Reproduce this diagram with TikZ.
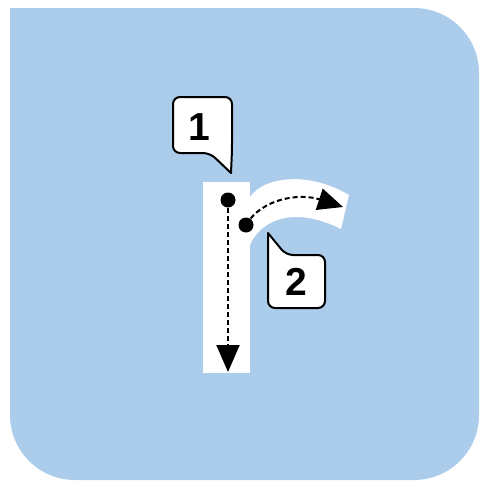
\documentclass[tikz,border=0pt]{standalone}
\usepackage{fontspec}
\setmainfont{Liberation Sans}
\usetikzlibrary{arrows.meta}
\definecolor{bgblue}{RGB}{171,205,235}
\tikzset{
  callout/.style={draw=black, fill=white, line width=2pt, rounded corners=7pt, line join=round},
  num/.style={font=\bfseries\fontsize{39}{39}\selectfont, inner sep=0pt},
  dot/.style={circle, fill=black, minimum size=15pt, inner sep=0pt},
  dasharrow/.style={draw=black, line width=2pt, dash pattern=on 5pt off 3pt},
}
\begin{document}
\begin{tikzpicture}[x=1pt,y=-1pt]
\useasboundingbox (0,0) rectangle (481,482);
% background
\fill[bgblue, rounded corners=65pt] (10,8) rectangle (479,480);
\fill[bgblue] (10,8) rectangle (120,120);
% white letter r
\fill[white] (203,182) rectangle (250,373);
\fill[white] (249,198) .. controls (265,175) and (310,172) .. (349,195)
  -- (341,229) .. controls (300,208) and (262,215) .. (249,247) -- cycle;
% callout 1
\draw[callout] (173,97) -- (232,97) -- (232,150) [sharp corners] -- (231,173) [rounded corners=7pt] -- (210,153) -- (173,153) -- cycle;
\node[num] (n1) at (199,127) {1};
% callout 2
\draw[callout] (268,250) [sharp corners] -- (268,233) [rounded corners=7pt] -- (286,255) -- (325,255) -- (325,308) -- (268,308) -- cycle;
\node[num] (n2) at (296,282) {2};
% dots and arrows
\node[dot] (d1) at (228,200) {};
\node[dot] (d2) at (246,225) {};
\coordinate (e1) at (228,372);
\coordinate (e2) at (343,207);
\draw[dasharrow, -{Triangle[length=27pt,width=23pt]}] (d1.center) -- (e1);
\draw[dasharrow, -{Triangle[length=25pt,width=22pt]}] (d2.center) .. controls (262,198) and (300,193) .. (e2);
\end{tikzpicture}
\end{document}
